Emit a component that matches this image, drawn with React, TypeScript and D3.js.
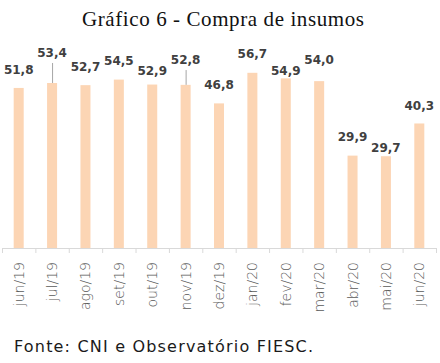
import * as d3 from "d3"

const months = ["jun/19", "jul/19", "ago/19", "set/19", "out/19", "nov/19", "dez/19", "jan/20", "fev/20", "mar/20", "abr/20", "mai/20", "jun/20"]
const values = [51.8, 53.4, 52.7, 54.5, 52.9, 52.8, 46.8, 56.7, 54.9, 54.0, 29.9, 29.7, 40.3]
// label centre offset above bar top (px), as placed in the original
const labelLift = [17.6, 30, 17.7, 19, 13.5, 24.8, 18.4, 18.8, 7.4, 21, 18.6, 8.2, 17.5]
const withLeader = ["jul/19", "nov/19"]

const W = 440
const H = 363
const base = 248

export default function App() {
  const x = d3.scaleBand().domain(months).range([2, 436]).padding(0)
  const y = d3.scaleLinear().domain([0, 60]).range([base, base - 60 * 3.09])
  const bw = x.bandwidth() * 0.3
  const fmt = (v: number) => v.toFixed(1).replace(".", ",")
  const ticks = months.map((m) => x(m) ?? 0).concat([x.range()[1]])

  return (
    <svg width={W} height={H} style={{ position: "absolute", left: 0, top: 0, background: "#fff" }}>
      <text x={223} y={26} textAnchor="middle" fontFamily="Liberation Serif" fontSize={21} fill="#111" textLength={282}>
        Gráfico 6 - Compra de insumos
      </text>

      {months.map((m, i) => {
        const cx = (x(m) ?? 0) + x.bandwidth() / 2
        return (
          <rect key={m} x={cx - bw / 2} y={y(values[i])} width={bw} height={base - y(values[i])} fill="#fcd5b4" />
        )
      })}

      <line x1={x.range()[0]} x2={x.range()[1]} y1={base + 0.5} y2={base + 0.5} stroke="#d9d9d9" strokeWidth={1} />
      {ticks.map((t, i) => (
        <line key={i} x1={t + 0.5} x2={t + 0.5} y1={base} y2={base + 5} stroke="#d9d9d9" strokeWidth={1} />
      ))}

      {months.map((m, i) => {
        const cx = (x(m) ?? 0) + x.bandwidth() / 2
        const top = y(values[i])
        const ly = top - labelLift[i]
        return (
          <g key={m}>
            {withLeader.includes(m) && (
              <line x1={cx + 0.5} x2={cx + 0.5} y1={ly + 10} y2={top} stroke="#a6a6a6" strokeWidth={1} />
            )}
            <text
              x={cx}
              y={ly}
              textAnchor="middle"
              dominantBaseline="central"
              fontFamily="DejaVu Sans"
              fontWeight="bold"
              fontSize={12}
              fill="#404040"
            >
              {fmt(values[i])}
            </text>
          </g>
        )
      })}

      {months.map((m) => {
        const cx = (x(m) ?? 0) + x.bandwidth() / 2
        return (
          <text
            key={m}
            transform={`translate(${cx},${base + 14}) rotate(-90)`}
            textAnchor="end"
            dominantBaseline="central"
            fontFamily="DejaVu Sans"
            fontWeight={200}
            fontSize={14}
            fill="#595959"
          >
            {m}
          </text>
        )
      })}

      <text x={14} y={352} fontFamily="DejaVu Sans" fontSize={16} fill="#1a1a1a" textLength={299}>
        Fonte: CNI e Observatório FIESC.
      </text>
    </svg>
  )
}
